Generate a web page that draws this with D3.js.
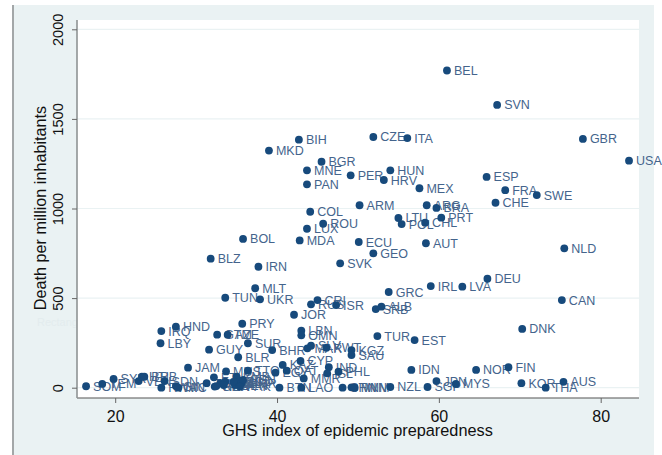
<!DOCTYPE html>
<html><head><meta charset="utf-8">
<style>html,body{margin:0;padding:0;background:#fff}svg{display:block}text{font-family:"Liberation Sans",Arial,sans-serif}</style>
<script src="https://cdn.jsdelivr.net/npm/d3@7"></script></head><body>
<div id="c"></div>
<script>
const codes=["BEL","SVN","GBR","USA","BIH","MKD","BGR","MNE","PAN","PER","HUN","HRV","CZE","ITA","MEX","ARM","ARG","BRA","COL","ROU","LUX","LTU","POL","CHL","PRT","BOL","MDA","ECU","AUT","GEO","BLZ","IRN","SVK","MLT","TUN","UKR","CRI","RUS","ISR","GRC","IRL","ALB","SRB","ESP","FRA","SWE","CHE","NLD","DEU","LVA","CAN","DNK","NOR","FIN","IDN","JPN","MYS","KOR","THA","AUS","SGP","NZL","PRY","JOR","TUR","EST","LBN","OMN","GTM","AZE","SUR","GUY","BLR","BHR","MAR","SLV","KWT","KGZ","SAU","CYP","KAZ","IND","PHL","ISL","EGY","QAT","MMR","LAO","BTN","CHN","TWN","VNM","MUS","TTO","SOM","YEM","SYR","VEN","HTI","BRB","SDN","RWA","GIN","NIC","IRQ","HND","LBY","JAM","TGO","ETH","GHA","UGA","KEN","TZA","ZMB","COD","BEN","CMR","SEN","PAK","MLI","NER"];
const ghs=[61,67.2,77.8,83.5,42.7,39.0,45.5,43.7,43.7,49.1,54.0,53.2,51.9,56.1,57.6,50.2,58.5,59.7,44.1,45.7,43.7,55.0,55.4,58.3,60.3,35.8,42.8,50.1,58.4,51.9,31.8,37.7,47.8,37.3,33.6,37.9,45.0,44.2,47.3,53.8,59.0,52.9,52.2,65.9,68.2,72.1,67.0,75.5,66.0,62.9,75.2,70.3,64.6,68.6,56.6,59.7,62.1,70.2,73.2,75.4,58.6,54.0,35.7,42.1,52.4,57.0,43.0,43.0,32.6,33.9,36.4,31.6,35.2,39.4,43.75,44.2,46.1,49.2,49.2,42.9,40.7,46.4,47.6,46.2,39.8,41.2,43.3,43.0,40.3,48.1,49.2,49.6,33.7,36.4,16.4,18.4,19.8,22.9,23.3,23.6,26.1,25.7,27.5,27.8,25.7,27.5,25.6,29.0,31.3,32.2,32.3,33.0,33.6,33.4,35.0,35.2,34.8,35.6,35.8,35.4,34.6,32.5];
const deaths=[1770,1578,1388,1267,1384,1323,1261,1213,1135,1185,1213,1159,1399,1393,1113,1018,1018,1003,982,915,887,947,913,921,949,830,822,813,806,750,720,675,694,555,502,493,489,465,461,534,567,452,439,1176,1102,1075,1032,778,608,564,489,328,99,114,99,37,21,25,0,33,4,4,357,407,288,266,318,292,296,296,248,212,170,210,220,234,223,210,182,149,127,114,89,80,84,95,52,0,0,0,2,0,91,95,8,21,49,37,61,61,37,0,9,0,316,340,248,112,25,58,6,25,34,15,61,33,15,25,43,6,33,9];
const xTicks=[20,40,60,80];
const yTicks=[0,500,1000,1500,2000];
const xTitle="GHS index of epidemic preparedness";
const yTitle="Death per million inhabitants";

const W=662,H=455,pl=77,pr=639,pt=20,pb=398;
const x=d3.scaleLinear().domain([20,80]).range([115.2,600.7]);
const y=d3.scaleLinear().domain([0,2000]).range([387.7,29.3]);
const svg=d3.select("#c").append("svg").attr("width",W).attr("height",H);
svg.append("rect").attr("x",13).attr("y",5).attr("width",641).attr("height",450).attr("fill","#eaf2f3");
svg.append("rect").attr("x",12).attr("y",5).attr("width",2).attr("height",450).attr("fill","#a3a7a8");
svg.append("text").attr("x",37).attr("y",326).attr("font-size",11).attr("fill","#e3ecee").text("Rectangular Snip");
svg.append("rect").attr("x",pl).attr("y",pt).attr("width",pr-pl).attr("height",pb-pt).attr("fill","#fff");
svg.append("g").selectAll("line").data(yTicks).join("line")
  .attr("x1",pl).attr("x2",pr).attr("y1",d=>y(d)).attr("y2",d=>y(d))
  .attr("stroke","#eaf2f3").attr("stroke-width",1.2);

const gx=svg.append("g").attr("transform",`translate(0,${pb})`)
  .call(d3.axisBottom(x).tickValues(xTicks).tickSize(5).tickPadding(8).tickSizeOuter(0).tickFormat(d3.format("d")));
gx.select(".domain").attr("d",`M${pl},0H${pr}`).attr("stroke","#555").attr("stroke-width",1.2);
gx.selectAll("line").attr("stroke","#666");
gx.selectAll("text").attr("font-size",16).attr("font-family","Liberation Sans").attr("fill","#111");

const gy=svg.append("g").attr("transform",`translate(${pl},0)`)
  .call(d3.axisLeft(y).tickValues(yTicks).tickSize(5).tickPadding(0).tickSizeOuter(0).tickFormat(d3.format("d")));
gy.select(".domain").attr("d",`M0,${pt}V${pb}`).attr("stroke","#8f9394").attr("stroke-width",1.6);
gy.selectAll("line").attr("stroke","#666");
gy.selectAll("text").attr("font-size",14.6).attr("font-family","Liberation Sans").attr("fill","#111")
  .attr("text-anchor","middle").attr("dy",0).attr("x",0).attr("y",0)
  .attr("transform","translate(-14,0) rotate(-90)");

svg.append("text").attr("x",357.5).attr("y",436).attr("text-anchor","middle").attr("font-size",16.3).attr("fill","#111").text(xTitle);
svg.append("text").attr("transform","translate(46,208) rotate(-90)").attr("text-anchor","middle").attr("font-size",16.2).attr("fill","#111").text(yTitle);

const pts=codes.map((c,i)=>({c,g:ghs[i],d:deaths[i]}));
svg.append("g").selectAll("text").data(pts).join("text")
  .attr("x",d=>x(d.g)+7).attr("y",d=>y(d.d)+4.5)
  .attr("font-size",12.5).attr("fill","#44648c").text(d=>d.c);
svg.append("g").selectAll("circle").data(pts).join("circle")
  .attr("cx",d=>x(d.g)).attr("cy",d=>y(d.d)).attr("r",3.9).attr("fill","#174a7c");
</script></body></html>
